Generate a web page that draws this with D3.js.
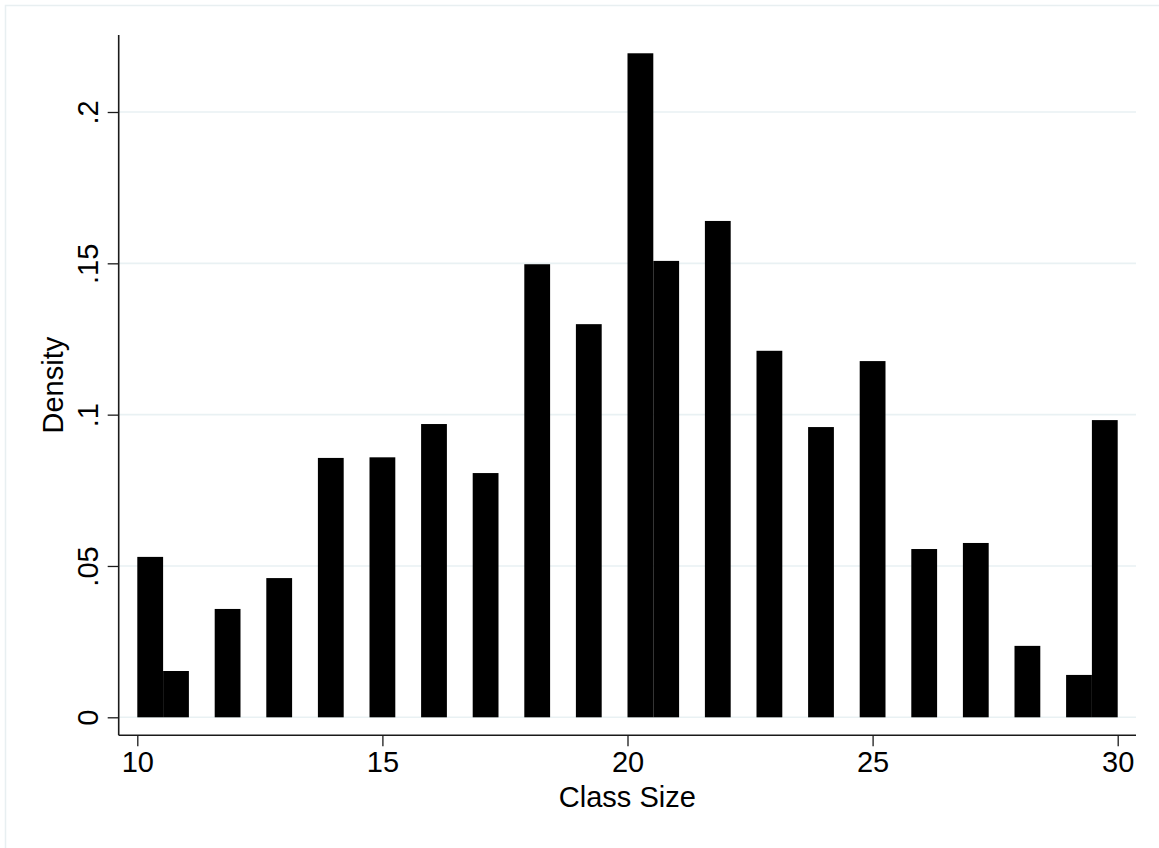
<!DOCTYPE html>
<html>
<head>
<meta charset="utf-8">
<script src="https://cdn.jsdelivr.net/npm/d3@7"></script>
<style>
  body { margin: 0; background: #fff; }
  svg { display: block; font-family: "Liberation Sans", Arial, sans-serif; }
</style>
</head>
<body>
<div id="chart"></div>
<script>
// class size values (one histogram bin each) and their density
var classSize = [10, 11, 12, 13, 14, 15, 16, 17, 18, 19, 20, 21, 22, 23, 24, 25, 26, 27, 28, 29, 30];
var density = [0.0530, 0.0153, 0.0358, 0.0460, 0.0857, 0.0859, 0.0969, 0.0807, 0.1497, 0.1299,
               0.2194, 0.1508, 0.1640, 0.1211, 0.0959, 0.1177, 0.0556, 0.0576, 0.0236, 0.0140, 0.0982];
var xTicks = [10, 15, 20, 25, 30];
var yTicks = [0, 0.05, 0.1, 0.15, 0.2];
var yTickLabels = ["0", ".05", ".1", ".15", ".2"];
var nBins = 38;

var width = 1159, height = 848;
var fontSize = 29;
var svg = d3.select("#chart")
    .append("svg")
    .attr("width", width)
    .attr("height", height);

// faint outer graph border
svg.append("rect")
    .attr("x", 5.5).attr("y", 5.5)
    .attr("width", width + 20).attr("height", height + 20)
    .attr("fill", "none")
    .attr("stroke", "#e8eff1")
    .attr("stroke-width", 1.5);

var plotLeft = 118.7, plotRight = 1136, plotTop = 35, plotBottom = 735.3;

var x = d3.scaleLinear().domain([10, 30]).range([137.3, 1117.7]);
var y = d3.scaleLinear().domain([0, 0.2]).range([717.3, 112]);

var binWidth = (30 - 10) / nBins;
var bins = classSize.map(function(v, i) {
    var k = Math.min(nBins - 1, Math.floor((v - 10) / binWidth + 1e-9));
    return {x0: 10 + k * binWidth, x1: 10 + (k + 1) * binWidth, d: density[i]};
});

// grid lines
svg.append("g")
    .selectAll("line")
    .data(yTicks)
    .enter()
    .append("line")
    .attr("x1", plotLeft).attr("x2", plotRight)
    .attr("y1", d => y(d)).attr("y2", d => y(d))
    .attr("stroke", "#e9f1f3")
    .attr("stroke-width", 1.6);

// bars
svg.append("g")
    .selectAll("rect")
    .data(bins)
    .enter()
    .append("rect")
    .attr("x", d => x(d.x0))
    .attr("width", d => x(d.x1) - x(d.x0))
    .attr("y", d => y(d.d))
    .attr("height", d => y(0) - y(d.d))
    .attr("fill", "#000");

// x axis
var xAxis = svg.append("g")
    .attr("transform", "translate(0," + plotBottom + ")")
    .call(d3.axisBottom(x).tickValues(xTicks).tickSize(11).tickPadding(5).tickFormat(d3.format("d")));
xAxis.select(".domain")
    .attr("d", "M" + plotLeft + ",0H" + plotRight)
    .attr("stroke", "#1a1a1a").attr("stroke-width", 1.6);
xAxis.selectAll(".tick line").attr("stroke", "#1a1a1a").attr("stroke-width", 1.3);
xAxis.selectAll(".tick text")
    .attr("font-size", fontSize)
    .attr("font-family", "Liberation Sans, Arial, sans-serif")
    .attr("fill", "#000");

// y axis
var yAxis = svg.append("g")
    .attr("transform", "translate(" + plotLeft + ",0)")
    .call(d3.axisLeft(y).tickValues(yTicks).tickSize(11).tickFormat((d, i) => yTickLabels[i]));
yAxis.select(".domain")
    .attr("d", "M0," + plotTop + "V" + plotBottom)
    .attr("stroke", "#1a1a1a").attr("stroke-width", 1.6);
yAxis.selectAll(".tick line").attr("stroke", "#1a1a1a").attr("stroke-width", 1.3);
yAxis.selectAll(".tick text")
    .attr("x", null).attr("dy", null)
    .attr("text-anchor", "middle")
    .attr("transform", "translate(-21,0) rotate(-90)")
    .attr("font-size", fontSize)
    .attr("font-family", "Liberation Sans, Arial, sans-serif")
    .attr("fill", "#000");

// axis titles
svg.append("text")
    .attr("x", (plotLeft + plotRight) / 2)
    .attr("y", 807)
    .attr("text-anchor", "middle")
    .attr("font-size", fontSize)
    .attr("fill", "#000")
    .text("Class Size");

svg.append("text")
    .attr("transform", "translate(63," + (plotTop + plotBottom) / 2 + ") rotate(-90)")
    .attr("text-anchor", "middle")
    .attr("font-size", fontSize)
    .attr("fill", "#000")
    .text("Density");
</script>
</body>
</html>
